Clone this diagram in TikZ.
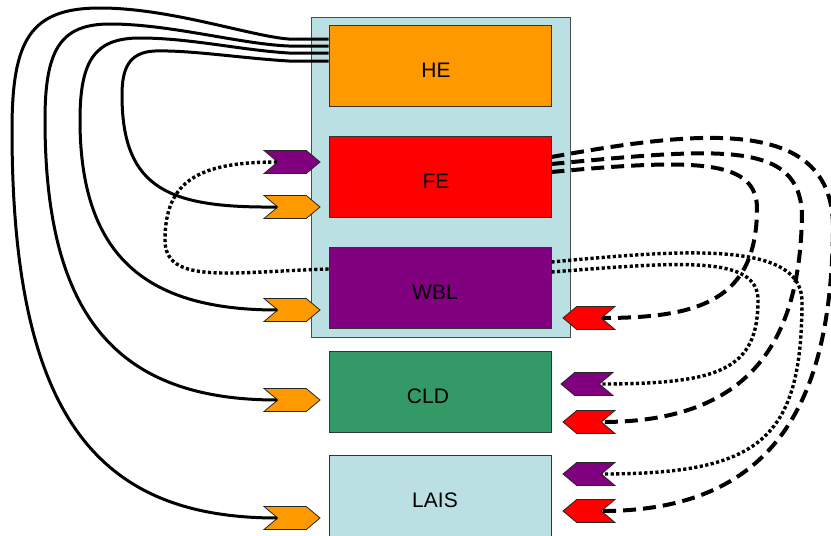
\documentclass[tikz,border=0pt]{standalone}
\usepackage{fontspec}
\setmainfont{Liberation Sans}
\usetikzlibrary{shapes.symbols}
\definecolor{contc}{HTML}{BBE0E3}
\definecolor{heor}{HTML}{FF9900}
\definecolor{fered}{HTML}{FF0000}
\definecolor{wblpu}{HTML}{800080}
\definecolor{cldgr}{HTML}{339966}
\begin{document}
\begin{tikzpicture}[x=1pt,y=-1pt,
 box/.style={draw=black!80, line width=0.8pt, minimum width=222pt, minimum height=81pt, inner sep=0pt, text height=23pt, text depth=0pt, font=\fontsize{21}{25}\selectfont},
 chevR/.style={signal, signal from=west, signal to=east, signal pointer angle=80, draw=black!85, line width=0.8pt, minimum width=56pt, minimum height=23pt, inner sep=0pt},
 chevL/.style={signal, signal from=east, signal to=west, signal pointer angle=80, draw=black!85, line width=0.8pt, minimum width=52pt, minimum height=23pt, inner sep=0pt},
 solidln/.style={line width=3pt},
 dashln/.style={line width=4pt, dash pattern=on 13pt off 7pt},
 dotln/.style={line width=3.4pt, dash pattern=on 3.2pt off 2.4pt}]
\useasboundingbox (0,0) rectangle (831,536);
% container
\node[draw=black!70, line width=0.8pt, fill=contc, minimum width=259pt, minimum height=320pt, inner sep=0pt] (cont) at (440.5,177) {};
% boxes
\node[box, fill=heor] (HE) at (440,65.5) {\hspace*{-8pt}HE};
\node[box, fill=fered] (FE) at (440,176.5) {\hspace*{-8pt}FE};
\node[box, fill=wblpu] (WBL) at (440,287.5) {\hspace*{-10pt}WBL};
\node[box, fill=cldgr] (CLD) at (440,391.5) {\hspace*{-24pt}CLD};
\node[box, fill=contc] (LAIS) at (440,495.5) {\hspace*{-10pt}LAIS};
% left chevrons
\node[chevR, fill=wblpu] (pFE) at (292,162) {};
\node[chevR, fill=heor] (oFE) at (292,207) {};
\node[chevR, fill=heor] (oWBL) at (292,310) {};
\node[chevR, fill=heor] (oCLD) at (292,400) {};
\node[chevR, fill=heor] (oLAIS) at (292,518) {};
% right chevrons
\node[chevL, fill=fered] (rWBL) at (589,318) {};
\node[chevL, fill=wblpu] (pCLD) at (587,384) {};
\node[chevL, fill=fered] (rCLD) at (589,422) {};
\node[chevL, fill=wblpu] (pLAIS) at (589,474) {};
\node[chevL, fill=fered] (rLAIS) at (589,511) {};
% solid connectors HE -> orange chevrons
\draw[solidln] ([yshift=26.5pt]HE.west) -- ++(-40,0) .. controls (250,36) and (170,8) .. (100,8) .. controls (30,8) and (12,40) .. (12,130) .. controls (12,420) and (100,518) .. (oLAIS.west);
\draw[solidln] ([yshift=19.5pt]HE.west) -- ++(-40,0) .. controls (240,44) and (170,24) .. (110,24) .. controls (60,24) and (45,50) .. (45,120) .. controls (45,320) and (120,400) .. (oCLD.west);
\draw[solidln] ([yshift=12.5pt]HE.west) -- ++(-40,0) .. controls (240,50) and (190,38) .. (140,38) .. controls (95,38) and (80,60) .. (80,120) .. controls (80,260) and (150,310) .. (oWBL.west);
\draw[solidln] ([yshift=4.5pt]HE.west) -- ++(-40,0) .. controls (240,58) and (190,50) .. (155,51) .. controls (128,52) and (122,70) .. (122,95) .. controls (122,190) and (170,208) .. (oFE.west);
% dotted WBL -> FE purple
\draw[dotln] ([yshift=18.5pt]WBL.west) .. controls (230,272) and (165,285) .. (165,240) .. controls (165,180) and (200,162) .. (pFE.west);
% dashed FE -> red chevrons
\draw[dashln] ([yshift=19.5pt]FE.east) .. controls (700,130) and (835,115) .. (833,230) .. controls (831,380) and (790,511) .. (rLAIS.east);
\draw[dashln] ([yshift=12.5pt]FE.east) .. controls (720,148) and (800,140) .. (802,215) .. controls (800,330) and (760,422) .. (rCLD.east);
\draw[dashln] ([yshift=4.5pt]FE.east) .. controls (700,158) and (758,160) .. (757,210) .. controls (756,300) and (700,318) .. (rWBL.east);
% dotted WBL -> purple chevrons
\draw[dotln] ([yshift=25.5pt]WBL.east) .. controls (680,250) and (800,240) .. (802,300) .. controls (802,440) and (760,474) .. (pLAIS.east);
\draw[dotln] ([yshift=15.5pt]WBL.east) .. controls (680,262) and (758,255) .. (758,300) .. controls (758,370) and (720,384) .. (pCLD.east);
\end{tikzpicture}
\end{document}
